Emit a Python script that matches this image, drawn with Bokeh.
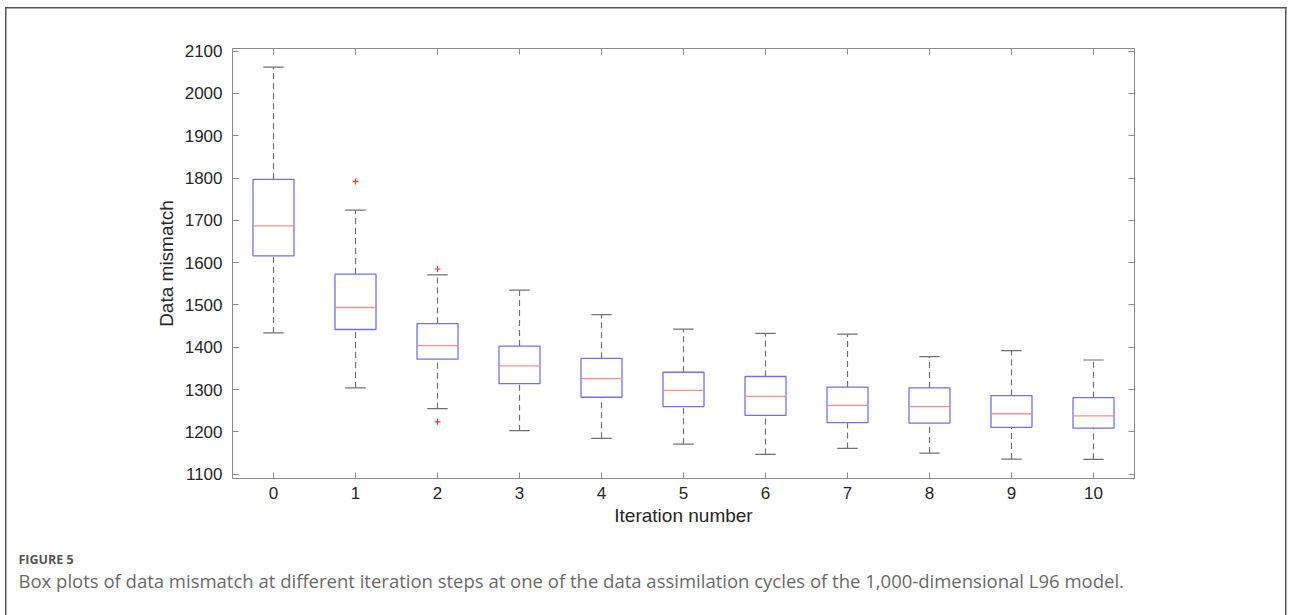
import numpy as np
from bokeh.plotting import figure
from bokeh.layouts import column
from bokeh.models import LinearAxis, FixedTicker, CustomJSTickFormatter, Range1d
from bokeh.core.properties import value
from bokeh.embed import file_html
from bokeh.resources import INLINE

# Box-plot statistics of the data mismatch per iteration
iterations = list(range(11))
upper_whisker = [2062, 1724, 1571, 1535, 1477, 1443, 1433, 1431, 1378, 1392, 1370]
q3 = [1797, 1573, 1456, 1403, 1374, 1341, 1331, 1306, 1304, 1286, 1281]
median = [1687, 1494, 1404, 1356, 1326, 1298, 1284, 1263, 1260, 1243, 1238]
q1 = [1616, 1442, 1372, 1314, 1282, 1260, 1239, 1222, 1221, 1211, 1209]
lower_whisker = [1434, 1304, 1255, 1203, 1185, 1171, 1147, 1161, 1150, 1136, 1135]

# Points beyond the whiskers
outlier_iter = [1, 2, 2]
outlier_val = [1792, 1585, 1224]

x_ticks = iterations
y_ticks = list(range(1100, 2101, 100))

x_label = "Iteration number"
y_label = "Data mismatch"
fig_tag = "FIGURE 5"
caption = ("Box plots of data mismatch at different iteration steps at one of the data "
           "assimilation cycles of the 1,000-dimensional L96 model.")

W = 1290
H_PLOT = 540
H_CAPTION = 75
BOX_W = 0.5
CAP_W = 0.25
AXIS_GRAY = "#8c8c8c"
TEXT_DARK = "#262626"
WHISKER = "#707070"

p = figure(width=W, height=H_PLOT,
           x_range=Range1d(-0.5, 10.5), y_range=Range1d(1090, 2106),
           min_border_left=232, min_border_right=156,
           min_border_top=48, min_border_bottom=H_PLOT - 478,
           output_backend="svg", toolbar_location=None,
           x_axis_location=None, y_axis_location=None)
p.grid.visible = False
p.outline_line_color = AXIS_GRAY
p.background_fill_color = "white"
p.border_fill_alpha = 0


def style_axis(ax, labelled):
    ax.axis_line_color = AXIS_GRAY
    ax.major_tick_line_color = AXIS_GRAY
    ax.minor_tick_line_color = None
    ax.major_tick_in = 6
    ax.major_tick_out = 0
    if labelled:
        ax.major_label_text_font = "Liberation Sans"
        ax.major_label_text_font_size = "17px"
        ax.major_label_text_color = TEXT_DARK
        ax.axis_label_text_font = "Liberation Sans"
        ax.axis_label_text_font_size = "19px"
        ax.axis_label_text_font_style = "normal"
        ax.axis_label_text_color = TEXT_DARK
    else:
        ax.formatter = CustomJSTickFormatter(code="return ''")
        ax.major_label_standoff = 0


bottom = LinearAxis(ticker=FixedTicker(ticks=x_ticks), axis_label=x_label)
style_axis(bottom, True)
bottom.major_label_standoff = 8
bottom.axis_label_standoff = 3
p.add_layout(bottom, "below")

left = LinearAxis(ticker=FixedTicker(ticks=y_ticks), axis_label=y_label)
style_axis(left, True)
left.major_label_standoff = 10
left.axis_label_standoff = 5
p.add_layout(left, "left")

top = LinearAxis(ticker=FixedTicker(ticks=x_ticks))
style_axis(top, False)
p.add_layout(top, "above")

right = LinearAxis(ticker=FixedTicker(ticks=y_ticks))
style_axis(right, False)
p.add_layout(right, "right")

x = np.array(iterations, dtype=float)

# dashed whiskers
p.segment(x0=x, y0=q3, x1=x, y1=upper_whisker, line_color=WHISKER,
          line_width=1.2, line_dash="6 4")
p.segment(x0=x, y0=lower_whisker, x1=x, y1=q1, line_color=WHISKER,
          line_width=1.2, line_dash="6 4")
# whisker caps
p.segment(x0=x - CAP_W / 2, y0=upper_whisker, x1=x + CAP_W / 2, y1=upper_whisker,
          line_color=WHISKER, line_width=1.2)
p.segment(x0=x - CAP_W / 2, y0=lower_whisker, x1=x + CAP_W / 2, y1=lower_whisker,
          line_color=WHISKER, line_width=1.2)
# interquartile boxes
p.vbar(x=x, width=BOX_W, bottom=q1, top=q3, fill_color=None,
       line_color="#7070ff", line_width=1.3)
# medians
p.segment(x0=x - BOX_W / 2, y0=median, x1=x + BOX_W / 2, y1=median,
          line_color="#ff8c8c", line_width=1.3)
# outliers
p.scatter(x=outlier_iter, y=outlier_val, marker="cross", size=6,
          line_color="#ff3030", line_width=1.2)

# caption strip below the chart, in pixel-like coordinates (y grows downward)
cap = figure(width=W, height=H_CAPTION,
             x_range=Range1d(0, W), y_range=Range1d(H_CAPTION, 0),
             min_border=0, output_backend="svg", toolbar_location=None,
             x_axis_location=None, y_axis_location=None)
cap.grid.visible = False
cap.outline_line_color = None
cap.background_fill_alpha = 0
cap.border_fill_alpha = 0
cap.text(x=[18], y=[19], text=[fig_tag], text_font=value("Open Sans"),
         text_font_size="12.5px", text_font_style="bold", text_color="#555555",
         text_baseline="middle")
cap.text(x=[18], y=[40], text=[caption], text_font=value("Open Sans"),
         text_font_size="18.5px", text_color="#6a6a6a",
         text_baseline="middle")

# keep each canvas laid out on its own instead of lining up the frames
for fig in (p, cap):
    if "frame_align" in fig.properties():
        fig.frame_align = False

# thin panel frame around the figure and its caption
frame_css = {
    "background-color": "white",
    "background-image": ("linear-gradient(#555555, #555555), "
                         "linear-gradient(#555555, #555555), "
                         "linear-gradient(#555555, #555555)"),
    "background-position": "5px 7px, 5px 7px, 1285px 7px",
    "background-size": "1.5px 700px, 1281.5px 1.5px, 1.5px 700px",
    "background-repeat": "no-repeat",
}
page = column(p, cap, spacing=0, styles=frame_css)

open("out.html", "w").write(file_html(page, INLINE))
